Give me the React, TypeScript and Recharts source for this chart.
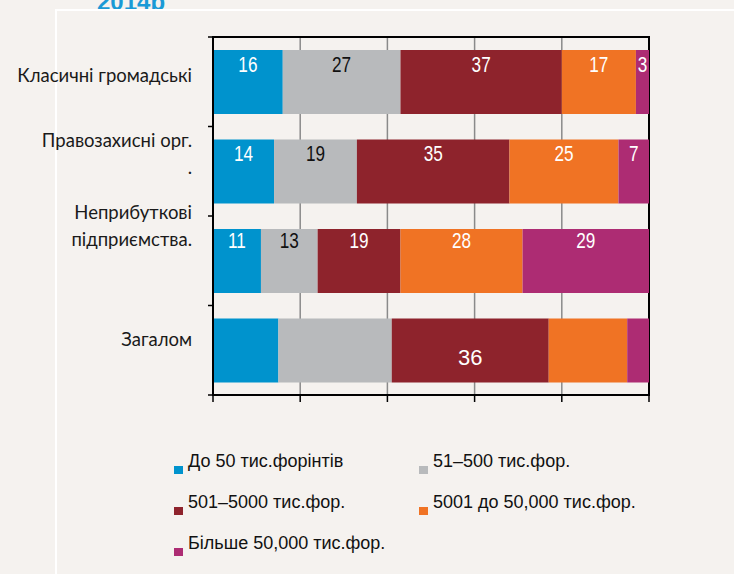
import { BarChart, Bar, XAxis, YAxis, CartesianGrid, ReferenceArea, LabelList } from 'recharts'

const categories = ['Класичні громадські', 'Правозахисні орг.\n.', 'Неприбуткові\nпідприємства.', 'Загалом']
const seriesNames = ['До 50 тис.форінтів', '51–500 тис.фор.', '501–5000 тис.фор.', '5001 до 50,000 тис.фор.', 'Більше 50,000 тис.фор.']
const upTo50 = [16, 14, 11, 15]
const from51to500 = [27, 19, 13, 26]
const from501to5000 = [37, 35, 19, 36]
const from5001to50000 = [17, 25, 28, 18]
const over50000 = [3, 7, 29, 5]
const xTicks = [0, 20, 40, 60, 80, 100]
// in the "Загалом" row only the 501–5000 segment carries a number
const totalRowLabelled = [false, false, true, false, false]

const seriesValues = [upTo50, from51to500, from501to5000, from5001to50000, over50000]
const colors = ['#0093cd', '#b8babc', '#8e232c', '#f07324', '#ad2c73']
const labelColors = ['#fff', '#111', '#fff', '#fff', '#fff']
const keys = ['s0', 's1', 's2', 's3', 's4']

const data = categories.map((name, i) => {
  const row: Record<string, string | number> = { name }
  keys.forEach((k, si) => { row[k] = seriesValues[si][i] })
  return row
})

const BG = '#f5f2ef'
const labelShift = [0, -24, -42, -4]
const valueShift = [22, 21, 19]

// category label, plus the small tick marks on the band edges (Excel style)
const CategoryTick = (props: any) => {
  const { x, y, payload, index } = props
  const half = payload && payload.offset ? payload.offset : 44.75
  const axisX = x + 1
  const lines = String(payload.value).split('\n')
  const first = y + labelShift[index]
  const isLast = index === categories.length - 1
  return (
    <g>
      <line x1={axisX - 6} x2={axisX} y1={y - half} y2={y - half} stroke='#000' strokeWidth={1.5} />
      {isLast && <line x1={axisX - 6} x2={axisX} y1={y + half} y2={y + half} stroke='#000' strokeWidth={1.5} />}
      <text textAnchor='end' fill='#1a1a1a' fontFamily='Lato, "Noto Sans", sans-serif' fontSize={18.5}>
        {lines.map((l, i) => (
          <tspan key={i} x={x - 21} y={first + i * 27}>{l}</tspan>
        ))}
      </text>
    </g>
  )
}

const EmptyTick = () => <g />

const makeLabel = (si: number) => (props: any) => {
  const { x, y, width, value, index } = props
  const isTotal = index === categories.length - 1
  if (isTotal && !totalRowLabelled[si]) return null
  const cx = Number(x) + Number(width) / 2
  if (isTotal) {
    return (
      <text x={cx} y={Number(y) + 46} textAnchor='middle' fill={labelColors[si]}
        fontFamily='"Liberation Sans", Arial, sans-serif' fontSize={22}>
        {value}
      </text>
    )
  }
  // the source uses a narrow face, squeeze Liberation Sans horizontally
  return (
    <text
      transform={`translate(${cx},${Number(y) + valueShift[index]}) scale(0.78,1)`}
      textAnchor='middle'
      fill={labelColors[si]}
      fontFamily='"Liberation Sans", Arial, sans-serif'
      fontSize={22}
    >
      {value}
    </text>
  )
}

export default function App () {
  return (
    <div style={{ position: 'absolute', left: 0, top: 0, width: 734, height: 574, background: BG, overflow: 'hidden' }}>
      <svg width={734} height={20} style={{ position: 'absolute', left: 0, top: 0 }}>
        <text x={97} y={10} fill='#1a9ad6' fontWeight='bold' fontSize={24} fontFamily='"Liberation Sans", Arial, sans-serif'>2014р</text>
      </svg>
      <div style={{ position: 'absolute', left: 55, top: 9, width: 700, height: 600, borderTop: '2px solid #fff', borderLeft: '2px solid #fff', background: BG }} />
      <div style={{ position: 'absolute', left: 0, top: 0 }}>
        <BarChart
          width={734}
          height={420}
          data={data}
          layout='vertical'
          margin={{ top: 37, right: 85, left: 212, bottom: 15 }}
          barSize={64}
        >
          <CartesianGrid horizontal={false} stroke='#8a8a8a' strokeWidth={1.5} />
          <XAxis
            type='number'
            domain={[0, 100]}
            ticks={xTicks}
            tick={<EmptyTick />}
            height={10}
            tickSize={7}
            axisLine={{ stroke: '#000', strokeWidth: 2 }}
            tickLine={{ stroke: '#000', strokeWidth: 1.5 }}
          />
          <YAxis
            type='category'
            dataKey='name'
            width={1}
            tickSize={0}
            tickMargin={0}
            tickLine={false}
            axisLine={{ stroke: '#000', strokeWidth: 2 }}
            tick={<CategoryTick />}
            interval={0}
          />
          {keys.map((k, si) => (
            <Bar key={k} dataKey={k} name={seriesNames[si]} stackId='a' fill={colors[si]} isAnimationActive={false}>
              <LabelList dataKey={k} content={makeLabel(si)} />
            </Bar>
          ))}
          <ReferenceArea x1={0} x2={100} fill='none' stroke='#000' strokeWidth={2} ifOverflow='visible' />
        </BarChart>
      </div>
      <svg width={734} height={574} style={{ position: 'absolute', left: 0, top: 0, pointerEvents: 'none' }}>
        {seriesNames.map((n, i) => {
          const col = i % 2
          const row = Math.floor(i / 2)
          const sx = col === 0 ? 174 : 419
          const base = 467 + row * 41
          return (
            <g key={n}>
              <rect x={sx} y={base - 1} width={9} height={8} fill={colors[i]} />
              <text x={sx + 14} y={base} fontSize={18} fill='#111' fontFamily='"Liberation Sans", Arial, sans-serif'>{n}</text>
            </g>
          )
        })}
      </svg>
    </div>
  )
}
